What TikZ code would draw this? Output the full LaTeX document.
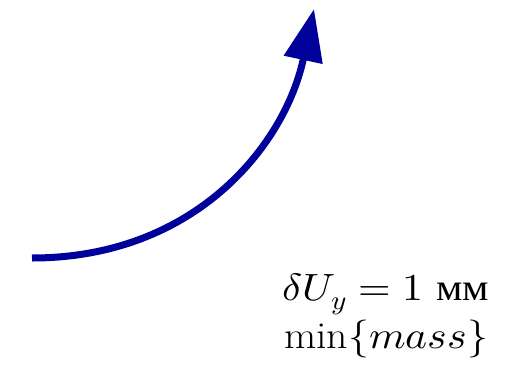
\documentclass[tikz,border=0pt]{standalone}
\usepackage{fontspec}
\usepackage{unicode-math}
\setmainfont{Latin Modern Roman}
\setmathfont{Latin Modern Math}
\newfontfamily\cyrfont{Liberation Serif}
\usetikzlibrary{arrows.meta}
\definecolor{arrowblue}{RGB}{0,0,155}
\tikzset{
  bigarrow/.style={draw=arrowblue, line width=7pt, -{Triangle[length=52pt,width=38pt]}},
  textlbl/.style={anchor=base, inner sep=0pt, font=\fontsize{38}{44}\selectfont}
}
\begin{document}
\begin{tikzpicture}[x=1pt,y=-1pt]
\useasboundingbox (0,0) rectangle (512,375);
\coordinate (start) at (32,258);
\coordinate (tip) at (314,9);
\draw[bigarrow] (start) .. controls (195,258) and (285,145) .. (tip);
\node[textlbl] (l1) at (386,300) {\scalebox{1.1}[1]{$\delta U_y = 1$ {\cyrfont мм}}};
\node[textlbl] (l2) at (386,348) {\scalebox{1.1}[1]{$\min\{mass\}$}};
\end{tikzpicture}
\end{document}
